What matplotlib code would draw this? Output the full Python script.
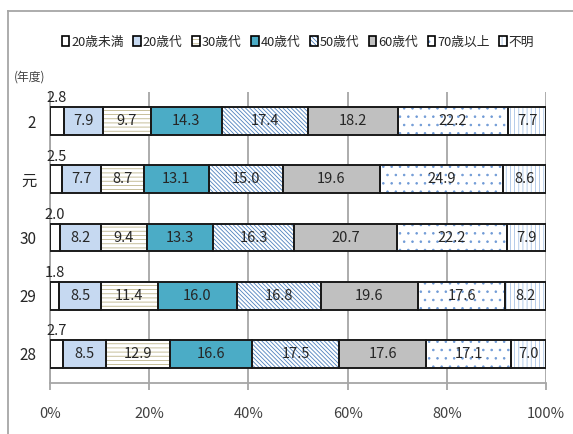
import matplotlib
matplotlib.use("Agg")
import matplotlib.pyplot as plt
import numpy as np
from matplotlib.patches import Patch
from matplotlib.legend_handler import HandlerTuple
from matplotlib.lines import Line2D

plt.rcParams['font.family'] = ['Noto Sans CJK JP', 'DejaVu Sans']
plt.rcParams['hatch.linewidth'] = 0.6

# data (percent)
years = ['2', '元', '30', '29', '28']
groups = ['20歳未満', '20歳代', '30歳代', '40歳代', '50歳代', '60歳代', '70歳以上', '不明']
values = {
    '20歳未満': [2.8, 2.5, 2.0, 1.8, 2.7],
    '20歳代':   [7.9, 7.7, 8.2, 8.5, 8.5],
    '30歳代':   [9.7, 8.7, 9.4, 11.4, 12.9],
    '40歳代':   [14.3, 13.1, 13.3, 16.0, 16.6],
    '50歳代':   [17.4, 15.0, 16.3, 16.8, 17.5],
    '60歳代':   [18.2, 19.6, 20.7, 19.6, 17.6],
    '70歳以上': [22.2, 24.9, 22.2, 17.6, 17.1],
    '不明':     [7.7, 8.6, 7.9, 8.2, 7.0],
}

# style per group: facecolor, hatch, hatch colour
styles = {
    '20歳未満': ('white', None, None),
    '20歳代':   ('#c6d9f1', None, None),
    '30歳代':   ('white', '----', '#bdb48a'),
    '40歳代':   ('#4bacc6', None, None),
    '50歳代':   ('white', '\\' * 8, '#4f81bd'),
    '60歳代':   ('#c0c0c0', None, None),
    '70歳以上': ('white', '..', '#6f9ad6'),
    '不明':     ('white', '||||', '#a9c4e6'),
}

fig = plt.figure(figsize=(5.73, 4.34), dpi=100)
ax = fig.add_axes([0.0873, 0.1175, 0.8656, 0.6705])

y = np.arange(len(years))
data = np.array([values[g] for g in groups])
totals = data.sum(axis=0)
pct = data / totals * 100
left = np.zeros(len(years))
bar_h = 0.48

handles = []
for i, g in enumerate(groups):
    fc, hatch, hc = styles[g]
    w = pct[i]
    if hatch:
        ax.barh(y, w, left=left, height=bar_h, color=fc, hatch=hatch,
                edgecolor=hc, linewidth=0, zorder=3)
    else:
        ax.barh(y, w, left=left, height=bar_h, color=fc, linewidth=0, zorder=3)
    ax.barh(y, w, left=left, height=bar_h, fill=False, edgecolor='#1a1a1a',
            linewidth=1.4, zorder=4)
    for j in range(len(years)):
        cx = left[j] + w[j] / 2
        if i == 0:
            ax.text(cx, y[j] - bar_h / 2 - 0.03, f'{values[g][j]:.1f}', ha='center',
                    va='bottom', fontsize=10.5, color='#262626', zorder=5)
        else:
            ax.text(cx, y[j], f'{values[g][j]:.1f}', ha='center', va='center',
                    fontsize=10.5, color='#262626', zorder=5)
    left += w
    if hatch:
        p1 = Patch(facecolor=fc, hatch=hatch, edgecolor=hc, linewidth=0)
    else:
        p1 = Patch(facecolor=fc, linewidth=0)
    p2 = Patch(fill=False, edgecolor='black', linewidth=1.2)
    handles.append((p1, p2))

ax.set_xlim(0, 100)
ax.set_ylim(len(years) - 0.5, -0.5)
ax.set_xticks([0, 20, 40, 60, 80, 100])
ax.set_xticklabels(['0%', '20%', '40%', '60%', '80%', '100%'])
ax.set_yticks(y)
ax.set_yticklabels(years)
ax.xaxis.grid(True, color='#a6a6a6', linewidth=1.3, zorder=0)
ax.set_axisbelow(True)
for s in ['top', 'right']:
    ax.spines[s].set_visible(False)
for s in ['left', 'bottom']:
    ax.spines[s].set_color('#a6a6a6')
    ax.spines[s].set_linewidth(1.3)
ax.tick_params(axis='x', length=5, width=1.3, color='#a6a6a6', pad=12,
               labelsize=10.5, labelcolor='#404040')
ax.tick_params(axis='y', length=0, pad=10, labelsize=11, labelcolor='#262626')

fig.text(0.024, 0.823, '(年度)', fontsize=8.5, color='#404040', va='center')

fig.legend(handles, groups, handler_map={tuple: HandlerTuple(ndivide=1, pad=0)},
           loc='center', bbox_to_anchor=(0.52, 0.903), ncol=8, frameon=False,
           fontsize=9.2, handlelength=0.6, handleheight=0.85, handletextpad=0.15,
           columnspacing=0.75, labelcolor='#262626')

# outer chart frame
fig.add_artist(Line2D([0.014, 0.014], [0, 0.9747], color='#a6a6a6', linewidth=1.3))
fig.add_artist(Line2D([0.014, 1], [0.9747, 0.9747], color='#a6a6a6', linewidth=1.3))

fig.savefig('out.png', dpi=100)
